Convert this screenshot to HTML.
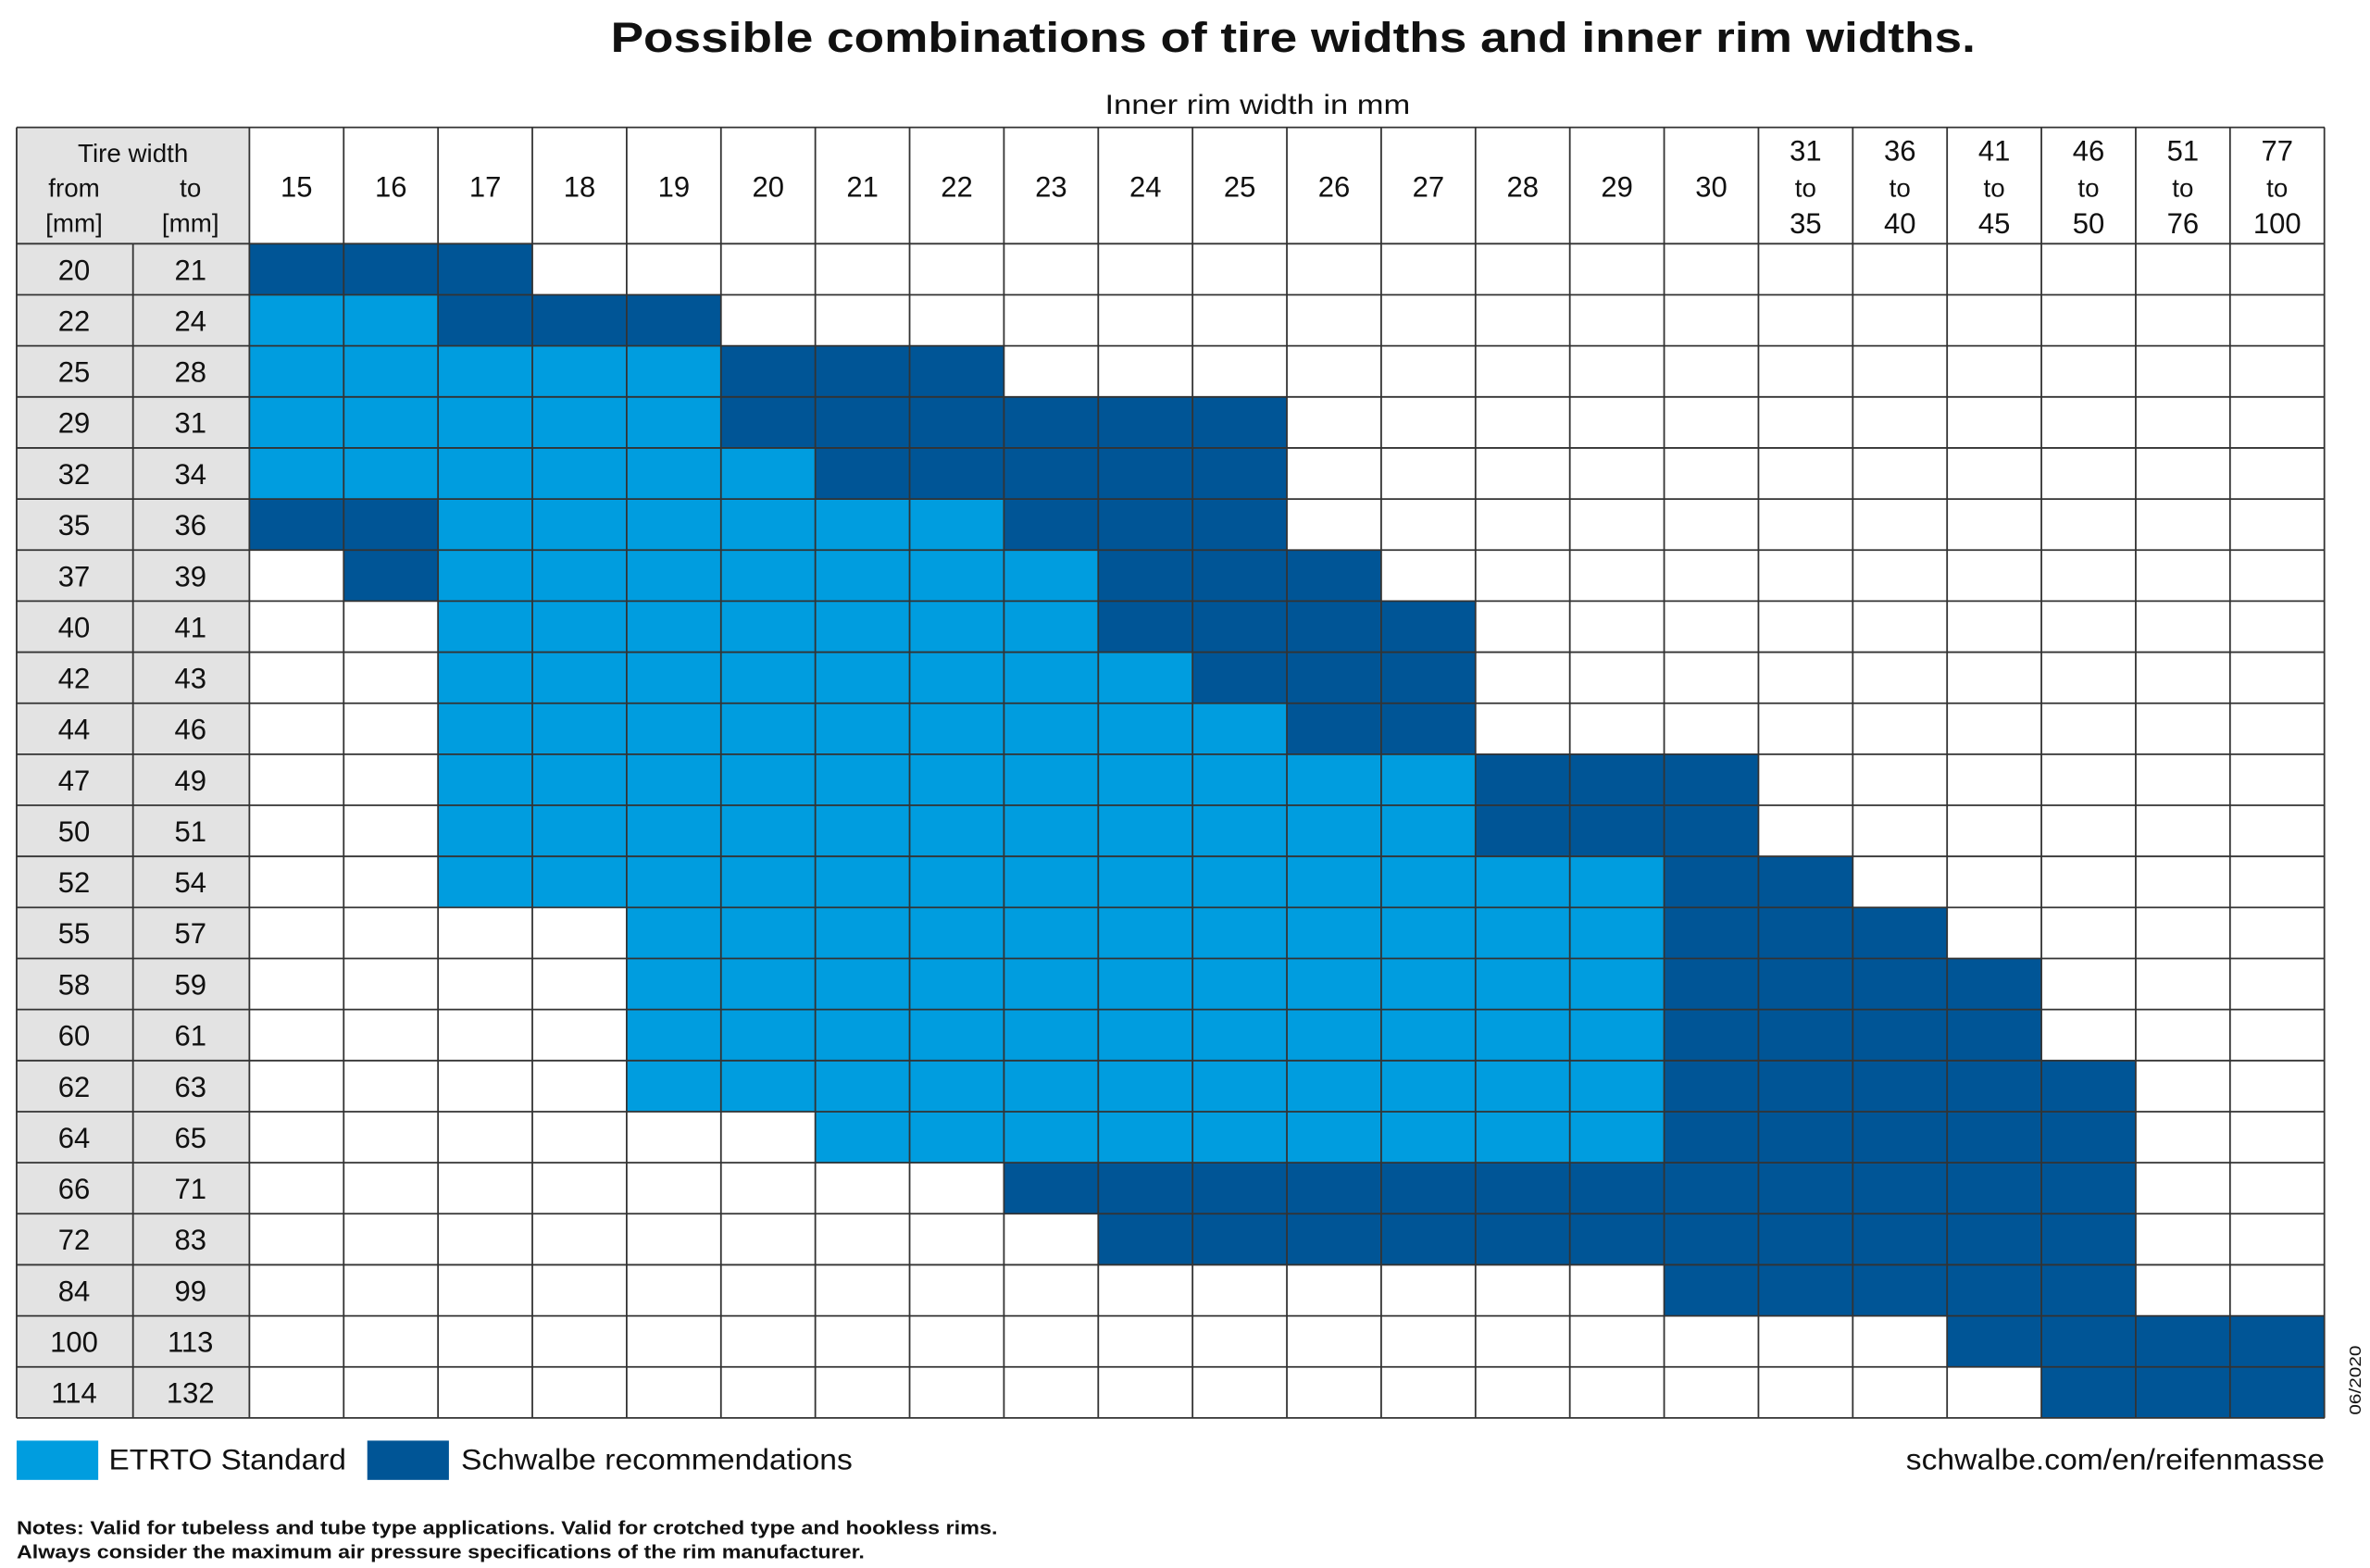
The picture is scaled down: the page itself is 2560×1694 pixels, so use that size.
<!DOCTYPE html>
<html><head><meta charset="utf-8"><style>
html,body{margin:0;padding:0;background:#fff;}
svg{display:block;}
text{font-family:"Liberation Sans",sans-serif;fill:#111;}
.n{font-size:19px;text-anchor:middle;}
</style></head><body>
<svg width="2560" height="1694" viewBox="0 0 1568 1037" xmlns="http://www.w3.org/2000/svg">
<rect width="1568" height="1037" fill="#fff"/>
<text x="404" y="34" textLength="903" lengthAdjust="spacingAndGlyphs" style="font-size:28px;font-weight:bold">Possible combinations of tire widths and inner rim widths.</text>
<text x="731" y="75" textLength="202" lengthAdjust="spacingAndGlyphs" style="font-size:18px">Inner rim width in mm</text>
<rect x="11" y="84" width="154" height="854" fill="#e3e3e3"/>
<g id="cells"></g>
<g id="grid" stroke="#333" stroke-width="1.1" fill="none"></g>
<g class="n">
<text x="88" y="107" style="font-size:17px">Tire width</text>
<text x="49" y="130" style="font-size:17px">from</text>
<text x="126" y="130" style="font-size:17px">to</text>
<text x="49" y="153" style="font-size:17px">[mm]</text>
<text x="126" y="153" style="font-size:17px">[mm]</text>
<text x="196.2" y="130">15</text><text x="258.6" y="130">16</text><text x="321" y="130">17</text><text x="383.4" y="130">18</text><text x="445.8" y="130">19</text><text x="508.2" y="130">20</text><text x="570.6" y="130">21</text><text x="633" y="130">22</text><text x="695.4" y="130">23</text><text x="757.8" y="130">24</text><text x="820.2" y="130">25</text><text x="882.6" y="130">26</text><text x="945" y="130">27</text><text x="1007.4" y="130">28</text><text x="1069.8" y="130">29</text><text x="1132.2" y="130">30</text>
<text x="1194.6" y="106">31</text><text x="1194.6" y="130" style="font-size:17px">to</text><text x="1194.6" y="154">35</text>
<text x="1257" y="106">36</text><text x="1257" y="130" style="font-size:17px">to</text><text x="1257" y="154">40</text>
<text x="1319.4" y="106">41</text><text x="1319.4" y="130" style="font-size:17px">to</text><text x="1319.4" y="154">45</text>
<text x="1381.8" y="106">46</text><text x="1381.8" y="130" style="font-size:17px">to</text><text x="1381.8" y="154">50</text>
<text x="1444.2" y="106">51</text><text x="1444.2" y="130" style="font-size:17px">to</text><text x="1444.2" y="154">76</text>
<text x="1506.6" y="106">77</text><text x="1506.6" y="130" style="font-size:17px">to</text><text x="1506.6" y="154">100</text>
<text x="49" y="185">20</text><text x="126" y="185">21</text>
<text x="49" y="218.7">22</text><text x="126" y="218.7">24</text>
<text x="49" y="252.5">25</text><text x="126" y="252.5">28</text>
<text x="49" y="286.2">29</text><text x="126" y="286.2">31</text>
<text x="49" y="320">32</text><text x="126" y="320">34</text>
<text x="49" y="353.8">35</text><text x="126" y="353.8">36</text>
<text x="49" y="387.6">37</text><text x="126" y="387.6">39</text>
<text x="49" y="421.4">40</text><text x="126" y="421.4">41</text>
<text x="49" y="455.1">42</text><text x="126" y="455.1">43</text>
<text x="49" y="488.9">44</text><text x="126" y="488.9">46</text>
<text x="49" y="522.7">47</text><text x="126" y="522.7">49</text>
<text x="49" y="556.5">50</text><text x="126" y="556.5">51</text>
<text x="49" y="590.3">52</text><text x="126" y="590.3">54</text>
<text x="49" y="624">55</text><text x="126" y="624">57</text>
<text x="49" y="657.8">58</text><text x="126" y="657.8">59</text>
<text x="49" y="691.6">60</text><text x="126" y="691.6">61</text>
<text x="49" y="725.4">62</text><text x="126" y="725.4">63</text>
<text x="49" y="759.2">64</text><text x="126" y="759.2">65</text>
<text x="49" y="792.9">66</text><text x="126" y="792.9">71</text>
<text x="49" y="826.7">72</text><text x="126" y="826.7">83</text>
<text x="49" y="860.5">84</text><text x="126" y="860.5">99</text>
<text x="49" y="894.3">100</text><text x="126" y="894.3">113</text>
<text x="49" y="928.1">114</text><text x="126" y="928.1">132</text>
</g>
<rect x="11" y="953" width="54" height="26" fill="#009ddf"/>
<text x="72" y="972" textLength="157" lengthAdjust="spacingAndGlyphs" style="font-size:19px">ETRTO Standard</text>
<rect x="243" y="953" width="54" height="26" fill="#005596"/>
<text x="305" y="972" textLength="259" lengthAdjust="spacingAndGlyphs" style="font-size:19px">Schwalbe recommendations</text>
<text x="1261" y="972" textLength="277" lengthAdjust="spacingAndGlyphs" style="font-size:19px">schwalbe.com/en/reifenmasse</text>
<text x="11" y="1015" textLength="649" lengthAdjust="spacingAndGlyphs" style="font-size:12.5px;font-weight:bold">Notes: Valid for tubeless and tube type applications. Valid for crotched type and hookless rims.</text>
<text x="11" y="1031" textLength="561" lengthAdjust="spacingAndGlyphs" style="font-size:12.5px;font-weight:bold">Always consider the maximum air pressure specifications of the rim manufacturer.</text>
<text transform="translate(1562,936) rotate(-90)" textLength="46" lengthAdjust="spacingAndGlyphs" style="font-size:11px">06/2020</text>
</svg>
<script>
var L='#009ddf',D='#005596';
var rows=[
[[0,2,D]],[[0,1,L],[2,4,D]],[[0,4,L],[5,7,D]],[[0,4,L],[5,10,D]],[[0,5,L],[6,10,D]],
[[0,1,D],[2,7,L],[8,10,D]],[[1,1,D],[2,8,L],[9,11,D]],[[2,8,L],[9,12,D]],[[2,9,L],[10,12,D]],
[[2,10,L],[11,12,D]],[[2,12,L],[13,15,D]],[[2,12,L],[13,15,D]],[[2,14,L],[15,16,D]],
[[4,14,L],[15,17,D]],[[4,14,L],[15,18,D]],[[4,14,L],[15,18,D]],[[4,14,L],[15,19,D]],
[[6,14,L],[15,19,D]],[[8,19,D]],[[9,19,D]],[[15,19,D]],[[18,21,D]],[[19,21,D]]];
var ns='http://www.w3.org/2000/svg',c=document.getElementById('cells'),g=document.getElementById('grid');
var X0=165,CW=62.4,Y0=161,RH=(938-161)/23;
rows.forEach(function(r,i){r.forEach(function(s){var e=document.createElementNS(ns,'rect');
e.setAttribute('x',X0+s[0]*CW);e.setAttribute('y',Y0+i*RH);e.setAttribute('width',(s[1]-s[0]+1)*CW);e.setAttribute('height',RH);e.setAttribute('fill',s[2]);c.appendChild(e);});});
function ln(x1,y1,x2,y2){var e=document.createElementNS(ns,'line');e.setAttribute('x1',x1);e.setAttribute('y1',y1);e.setAttribute('x2',x2);e.setAttribute('y2',y2);g.appendChild(e);}
ln(11,84,1538,84);
for(var i=0;i<=23;i++)ln(11,Y0+i*RH,1538,Y0+i*RH);
ln(11,84,11,938);ln(88,161,88,938);
for(var j=0;j<=22;j++)ln(X0+j*CW,84,X0+j*CW,938);
</script>
</body></html>
